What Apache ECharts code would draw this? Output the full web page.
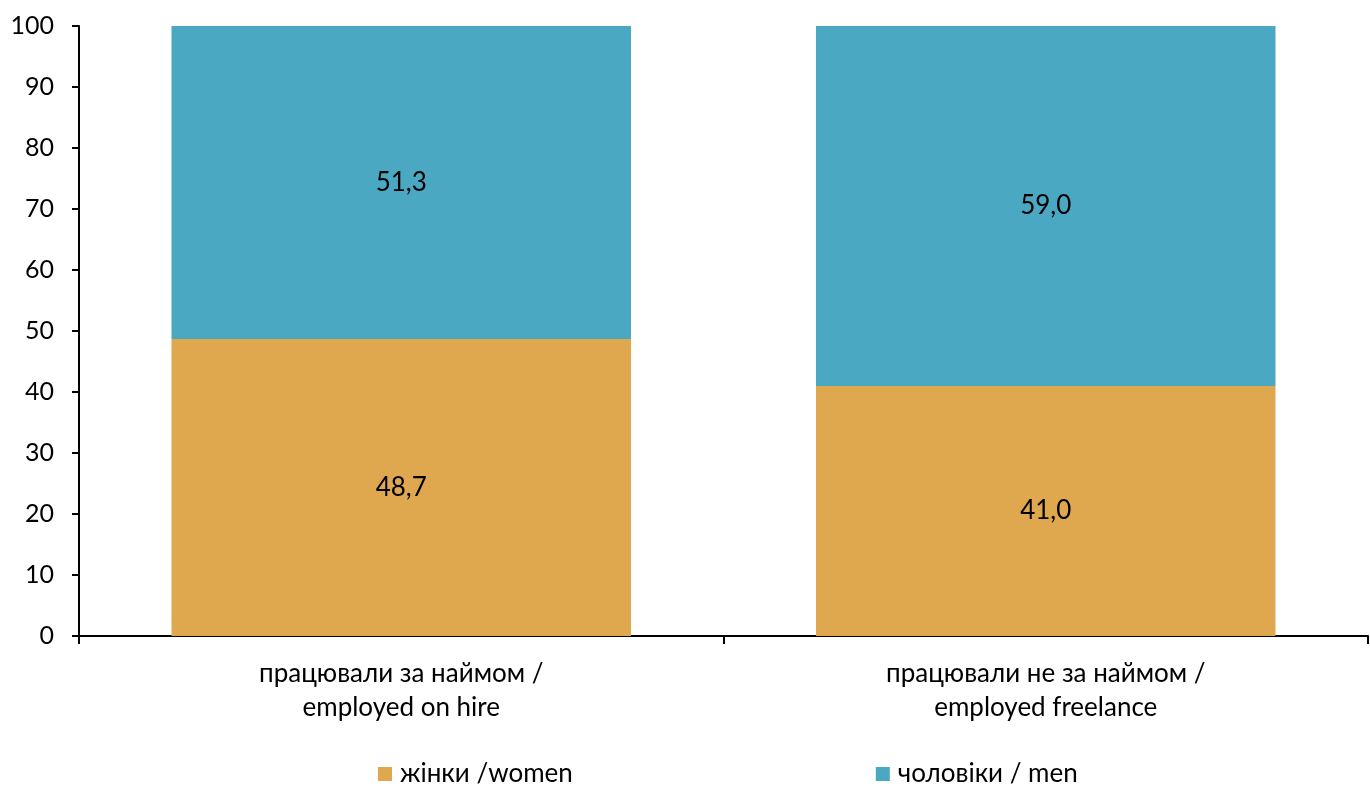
<!DOCTYPE html>
<html><head><meta charset="utf-8">
<script src="https://cdn.jsdelivr.net/npm/echarts@6/dist/echarts.min.js"></script>
<style>html,body{margin:0;padding:0;background:#fff}#c{width:1370px;height:787px}</style>
</head><body><div id="c"></div>
<script>
const categories = ['працювали за наймом /\nemployed on hire', 'працювали не за наймом /\nemployed freelance'];
const women = [48.7, 41.0];
const men = [51.3, 59.0];
const seriesNames = ['жінки /women', 'чоловіки / men'];
const yTicks = {min: 0, max: 100, interval: 10};

const font = 'Lato, "Open Sans", sans-serif';
const chart = echarts.init(document.getElementById('c'));
const lbl = {show: true, position: 'inside', color: '#000', fontSize: 26, fontFamily: font,
  formatter: p => p.value.toFixed(1).replace('.', ',')};
chart.setOption({
  animation: false,
  grid: {left: 79, right: 2, top: 26, bottom: 151},
  legend: {
    left: 378, top: 761, padding: 0, itemWidth: 14, itemHeight: 14, itemGap: 303,
    icon: 'rect',
    textStyle: {fontSize: 26, fontFamily: font, color: '#000', padding: [0,0,0,3]},
    data: seriesNames
  },
  xAxis: {
    type: 'category', data: categories,
    axisLine: {lineStyle: {color: '#000', width: 2}},
    axisTick: {show: true, length: 8, lineStyle: {color: '#000', width: 2}},
    axisLabel: {fontSize: 26, fontFamily: font, color: '#000', lineHeight: 34, margin: 21}
  },
  yAxis: {
    type: 'value', min: yTicks.min, max: yTicks.max, interval: yTicks.interval,
    axisLine: {show: true, lineStyle: {color: '#000', width: 2}},
    axisTick: {show: true, length: 7, lineStyle: {color: '#000', width: 2}},
    splitLine: {show: false},
    axisLabel: {fontSize: 25, fontFamily: font, color: '#000', margin: 25}
  },
  series: [
    {name: seriesNames[0], type: 'bar', stack: 's', data: women, barWidth: '71.3%',
     itemStyle: {color: '#DFA84F'}, label: lbl},
    {name: seriesNames[1], type: 'bar', stack: 's', data: men,
     itemStyle: {color: '#4BA8C3'}, label: lbl}
  ]
});
</script></body></html>
